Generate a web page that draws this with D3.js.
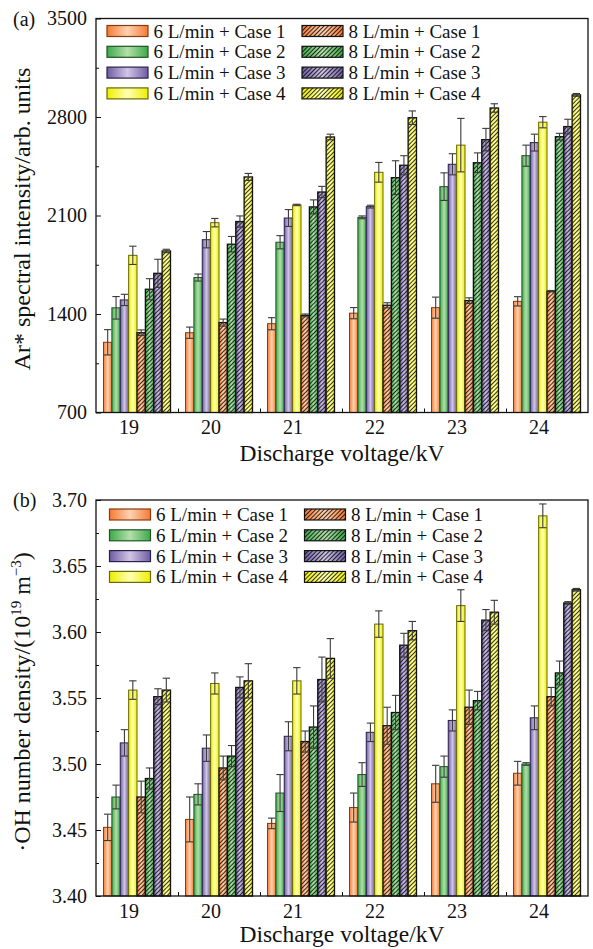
<!DOCTYPE html>
<html>
<head>
<meta charset="utf-8">
<script src="https://cdn.jsdelivr.net/npm/d3@7"></script>
<style>
body { margin: 0; background: #fff; }
text { font-family: "Liberation Serif", "Times New Roman", serif; fill: #111; }
</style>
</head>
<body>
<div id="chart"></div>
<script>
const voltages = ["19", "20", "21", "22", "23", "24"];
const seriesNames = ["6 L/min + Case 1", "6 L/min + Case 2", "6 L/min + Case 3", "6 L/min + Case 4",
                     "8 L/min + Case 1", "8 L/min + Case 2", "8 L/min + Case 3", "8 L/min + Case 4"];

// (a) Ar* spectral intensity
const arTicks = [700, 1400, 2100, 2800, 3500];
const ar6Case1 = [1199, 1267, 1331, 1406, 1445, 1490];
const ar6Case2 = [1444, 1659, 1910, 2087, 2305, 2525];
const ar6Case3 = [1500, 1928, 2082, 2163, 2464, 2618];
const ar6Case4 = [1817, 2049, 2175, 2407, 2600, 2763];
const ar8Case1 = [1267, 1339, 1390, 1462, 1495, 1562];
const ar8Case2 = [1576, 1896, 2161, 2369, 2475, 2660];
const ar8Case3 = [1689, 2057, 2267, 2457, 2639, 2732];
const ar8Case4 = [1848, 2374, 2658, 2795, 2864, 2957];
const ar6Case1Err = [90, 40, 43, 40, 75, 33];
const ar6Case2Err = [80, 25, 47, 10, 98, 75];
const ar6Case3Err = [40, 58, 60, 10, 75, 60];
const ar6Case4Err = [65, 30, 5, 70, 190, 40];
const ar8Case1Err = [20, 25, 10, 18, 20, 5];
const ar8Case2Err = [75, 55, 50, 120, 70, 24];
const ar8Case3Err = [100, 40, 40, 68, 80, 52];
const ar8Case4Err = [12, 25, 20, 48, 30, 10];

// (b) OH number density
const ohTicks = [3.40, 3.45, 3.50, 3.55, 3.60, 3.65, 3.70];
const oh6Case1 = [3.452, 3.458, 3.455, 3.467, 3.485, 3.493];
const oh6Case2 = [3.475, 3.477, 3.478, 3.492, 3.498, 3.500];
const oh6Case3 = [3.516, 3.512, 3.521, 3.524, 3.533, 3.535];
const oh6Case4 = [3.556, 3.561, 3.563, 3.606, 3.620, 3.688];
const oh8Case1 = [3.475, 3.497, 3.517, 3.529, 3.543, 3.551];
const oh8Case2 = [3.489, 3.506, 3.528, 3.539, 3.548, 3.569];
const oh8Case3 = [3.551, 3.558, 3.564, 3.590, 3.609, 3.622];
const oh8Case4 = [3.556, 3.563, 3.580, 3.601, 3.615, 3.632];
const oh6Case1Err = [0.010, 0.017, 0.004, 0.011, 0.014, 0.009];
const oh6Case2Err = [0.009, 0.008, 0.014, 0.009, 0.008, 0.001];
const oh6Case3Err = [0.010, 0.010, 0.011, 0.007, 0.008, 0.009];
const oh6Case4Err = [0.007, 0.008, 0.010, 0.010, 0.012, 0.009];
const oh8Case1Err = [0.012, 0.009, 0.008, 0.014, 0.013, 0.007];
const oh8Case2Err = [0.008, 0.008, 0.016, 0.013, 0.007, 0.009];
const oh8Case3Err = [0.006, 0.008, 0.017, 0.009, 0.008, 0.001];
const oh8Case4Err = [0.009, 0.013, 0.015, 0.007, 0.009, 0.001];

const hues = [
  {key: "or", edge: "#f67a35", mid: "#fdd3b2", stroke: "#8a3a0c"},
  {key: "gr", edge: "#3fa84b", mid: "#b2e0aa", stroke: "#1d5522"},
  {key: "pu", edge: "#6f5ca2", mid: "#d0c6e5", stroke: "#2a2050"},
  {key: "ye", edge: "#eeee00", mid: "#ffffb4", stroke: "#6a6a00"}
];

const W = 593, H = 949;
const left = 96, right = 588;

const svg = d3.select("#chart").append("svg")
    .attr("width", W).attr("height", H);

const defs = svg.append("defs");
hues.forEach(h => {
  const g = defs.append("linearGradient").attr("id", "grad-" + h.key)
      .attr("x1", 0).attr("x2", 1).attr("y1", 0).attr("y2", 0);
  g.append("stop").attr("offset", "0%").attr("stop-color", h.edge);
  g.append("stop").attr("offset", "50%").attr("stop-color", h.mid);
  g.append("stop").attr("offset", "100%").attr("stop-color", h.edge);
});
defs.append("pattern").attr("id", "hatch")
    .attr("patternUnits", "userSpaceOnUse")
    .attr("width", 3).attr("height", 3)
    .attr("patternTransform", "rotate(45)")
  .append("line")
    .attr("x1", 1.5).attr("y1", 0).attr("x2", 1.5).attr("y2", 3)
    .attr("stroke", "#000").attr("stroke-width", 0.8);

function drawPanel(cfg) {
  const g = svg.append("g");
  const x = d3.scaleBand().domain(voltages).range([left, right]);
  const inner = d3.scaleBand().domain(d3.range(8)).range([7.5, x.bandwidth() - 7.5]);
  const y = d3.scaleLinear().domain(cfg.domain).range([cfg.bottom, cfg.top]);
  const bw = inner.bandwidth();

  const rows = [];
  voltages.forEach((v, i) => {
    cfg.values.forEach((arr, j) => {
      rows.push({v: v, s: j, val: arr[i], err: cfg.errors[j][i]});
    });
  });

  const bars = g.append("g").selectAll("g").data(rows).join("g");
  bars.append("rect")
      .attr("x", d => x(d.v) + inner(d.s))
      .attr("y", d => y(d.val))
      .attr("width", bw)
      .attr("height", d => cfg.bottom - y(d.val))
      .attr("fill", d => "url(#grad-" + hues[d.s % 4].key + ")");
  bars.filter(d => d.s >= 4).append("rect")
      .attr("x", d => x(d.v) + inner(d.s))
      .attr("y", d => y(d.val))
      .attr("width", bw)
      .attr("height", d => cfg.bottom - y(d.val))
      .attr("fill", "url(#hatch)");
  bars.append("rect")
      .attr("x", d => x(d.v) + inner(d.s))
      .attr("y", d => y(d.val))
      .attr("width", bw)
      .attr("height", d => cfg.bottom - y(d.val))
      .attr("fill", "none")
      .attr("stroke", d => d.s >= 4 ? "#111" : hues[d.s % 4].stroke)
      .attr("stroke-width", d => d.s >= 4 ? 1.3 : 1);

  // error bars
  const eb = g.append("g").attr("stroke", "#3a3a3a").attr("stroke-width", 1.1).attr("fill", "none");
  rows.forEach(d => {
    const cx = x(d.v) + inner(d.s) + bw / 2;
    const y1 = y(d.val + d.err), y0 = y(d.val - d.err);
    eb.append("line").attr("x1", cx).attr("x2", cx).attr("y1", y1).attr("y2", y0);
    eb.append("line").attr("x1", cx - bw / 2 + 0.5).attr("x2", cx + bw / 2 - 0.5).attr("y1", y1).attr("y2", y1);
    eb.append("line").attr("x1", cx - bw / 2 + 0.5).attr("x2", cx + bw / 2 - 0.5).attr("y1", y0).attr("y2", y0);
  });

  // y axis, ticks inward
  const yAx = g.append("g").attr("transform", `translate(${left},0)`)
      .call(d3.axisLeft(y).tickValues(cfg.ticks).tickSize(-5).tickPadding(9).tickFormat(cfg.fmt));
  g.append("g").attr("transform", `translate(${left},0)`)
      .call(d3.axisLeft(y).tickValues(cfg.minor).tickSize(-3).tickFormat(""))
      .call(a => a.select(".domain").remove());
  yAx.select(".domain").remove();
  yAx.selectAll("text").attr("font-family", "Liberation Serif").attr("font-size", 20).attr("fill", "#111");
  g.selectAll(".tick line").attr("stroke", "#111");

  // x axis: labels and boundary ticks
  const xAx = g.append("g").attr("transform", `translate(0,${cfg.bottom})`)
      .call(d3.axisBottom(x).tickSize(0).tickPadding(7.5));
  xAx.select(".domain").remove();
  xAx.selectAll("text").attr("font-family", "Liberation Serif").attr("font-size", 20)
      .attr("fill", "#111").attr("dx", -8);
  const edge = d3.scaleLinear().domain([0, voltages.length]).range([left, right]);
  g.append("g").attr("transform", `translate(0,${cfg.bottom})`)
      .call(d3.axisBottom(edge).tickValues(d3.range(1, voltages.length)).tickSize(-4).tickFormat(""))
      .call(a => a.select(".domain").remove())
      .selectAll("line").attr("stroke", "#111");

  // frame
  g.append("rect").attr("x", left).attr("y", cfg.top)
      .attr("width", right - left).attr("height", cfg.bottom - cfg.top)
      .attr("fill", "none").attr("stroke", "#111").attr("stroke-width", 1.3);

  // panel tag
  g.append("text").attr("x", 13).attr("y", cfg.top + 7).attr("font-size", 20).text(cfg.tag);

  // titles
  g.append("text").attr("x", (left + right) / 2).attr("y", cfg.bottom + cfg.xTitleGap)
      .attr("text-anchor", "middle").attr("font-size", 23.5).text("Discharge voltage/kV");
  const yt = g.append("text")
      .attr("transform", `translate(30,${cfg.titleY}) rotate(-90)`)
      .attr("text-anchor", "middle").attr("font-size", 24);
  cfg.yTitle(yt);

  // legend
  const lg = g.append("g");
  seriesNames.forEach((name, j) => {
    const col = Math.floor(j / 4), row = j % 4;
    const sx = cfg.legX + col * 195;
    const cy = cfg.legY + row * 20.8;
    const h = hues[j % 4];
    lg.append("rect").attr("x", sx).attr("y", cy - 5.5).attr("width", 41).attr("height", 11)
        .attr("fill", "url(#grad-" + h.key + ")");
    if (j >= 4) {
      lg.append("rect").attr("x", sx).attr("y", cy - 5.5).attr("width", 41).attr("height", 11)
          .attr("fill", "url(#hatch)");
    }
    lg.append("rect").attr("x", sx).attr("y", cy - 5.5).attr("width", 41).attr("height", 11)
        .attr("fill", "none").attr("stroke", j >= 4 ? "#111" : h.stroke).attr("stroke-width", 1.2);
    lg.append("text").attr("x", sx + 46.5).attr("y", cy + 6.5).attr("font-size", 19).text(name);
  });
}

drawPanel({
  tag: "(a)", top: 18.5, bottom: 412.5, domain: [700, 3500],
  ticks: arTicks, minor: d3.range(1050, 3500, 700), fmt: d3.format("d"),
  values: [ar6Case1, ar6Case2, ar6Case3, ar6Case4, ar8Case1, ar8Case2, ar8Case3, ar8Case4],
  errors: [ar6Case1Err, ar6Case2Err, ar6Case3Err, ar6Case4Err, ar8Case1Err, ar8Case2Err, ar8Case3Err, ar8Case4Err],
  titleY: 219, legX: 107, legY: 31, xTitleGap: 48,
  yTitle: t => t.text("Ar* spectral intensity/arb. units")
});

drawPanel({
  tag: "(b)", top: 500, bottom: 896, domain: [3.40, 3.70],
  ticks: ohTicks, minor: [3.425, 3.475, 3.525, 3.575, 3.625, 3.675], fmt: d3.format(".2f"),
  values: [oh6Case1, oh6Case2, oh6Case3, oh6Case4, oh8Case1, oh8Case2, oh8Case3, oh8Case4],
  errors: [oh6Case1Err, oh6Case2Err, oh6Case3Err, oh6Case4Err, oh8Case1Err, oh8Case2Err, oh8Case3Err, oh8Case4Err],
  titleY: 702, legX: 109.5, legY: 514.5, xTitleGap: 46,
  yTitle: t => {
    t.append("tspan").text("\u00B7OH number density/(10");
    t.append("tspan").attr("font-size", 15).attr("dy", -9).text("19");
    t.append("tspan").attr("dy", 9).text(" m");
    t.append("tspan").attr("font-size", 15).attr("dy", -9).text("\u22123");
    t.append("tspan").attr("dy", 9).text(")");
  }
});
</script>
</body>
</html>
